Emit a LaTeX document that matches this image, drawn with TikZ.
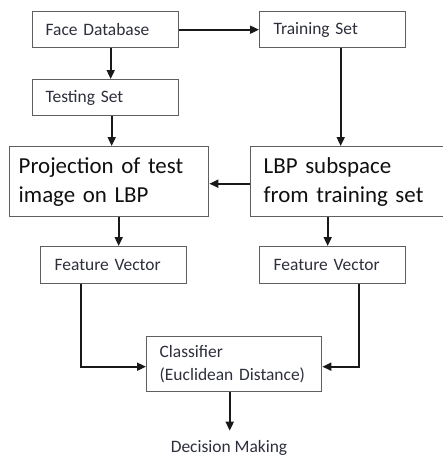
\documentclass[tikz,border=0pt]{standalone}
\usepackage{fontspec}
\setmainfont{Carlito}
\usetikzlibrary{arrows.meta,calc}
\definecolor{boxline}{RGB}{95,95,95}
\definecolor{smalltext}{RGB}{45,47,60}
\definecolor{bigtext}{RGB}{15,15,15}
\definecolor{wire}{RGB}{25,25,25}
\tikzset{
  box/.style={draw=boxline, line width=1.4pt, rectangle, anchor=north west,
    align=left, inner ysep=0pt},
  smallbox/.style={box, font=\fontsize{17.5}{23}\selectfont, text=smalltext},
  bigbox/.style={box, font=\fontsize{23}{29}\selectfont, text=bigtext},
  arr/.style={draw=wire, line width=1.8pt, -{Triangle[length=9pt,width=8pt]}}
}
\begin{document}
\begin{tikzpicture}[x=1bp,y=-1bp]
\useasboundingbox (0,0) rectangle (443,457);
\clip (0,0) rectangle (443,457);

% processing blocks
\node[smallbox, minimum width=146bp, minimum height=36bp, text width=120bp, inner xsep=13bp] (fd) at (32,11) {Face Database};
\node[smallbox, minimum width=146bp, minimum height=36bp, text width=118bp, inner xsep=14bp] (ts) at (259,11) {Training Set};
\node[smallbox, minimum width=146bp, minimum height=36bp, text width=120bp, inner xsep=13bp] (tst) at (32,79) {Testing Set};
\node[bigbox, minimum width=199bp, minimum height=70bp, text width=181bp, inner xsep=9bp] (proj) at (9,146) {Projection of test\\image on LBP};
\node[bigbox, minimum width=198bp, minimum height=70bp, text width=172bp, inner xsep=13bp] (lbp) at (250,146) {LBP subspace\\from training set};
\node[smallbox, minimum width=146bp, minimum height=37bp, text width=118bp, inner xsep=14bp] (fv1) at (40,246) {Feature Vector};
\node[smallbox, minimum width=146bp, minimum height=37bp, text width=118bp, inner xsep=14bp] (fv2) at (259,246) {Feature Vector};
\node[smallbox, minimum width=175bp, minimum height=55bp, text width=149bp, inner xsep=13bp] (cls) at (146,336) {Classifier\\(Euclidean Distance)};
\node[font=\fontsize{17.5}{23}\selectfont, text=smalltext, anchor=base, inner sep=3pt] (dm) at (229,452) {Decision Making};

% connectors
\draw[arr] (fd.east) -- (ts.west);
\draw[arr] ([xshift=5bp]fd.south) -- ([xshift=5bp]tst.north);
\draw[arr] ([xshift=6bp]tst.south) -- ([xshift=6bp]tst.south |- proj.north);
\draw[arr] ([xshift=8bp]ts.south) -- ([xshift=8bp]ts.south |- lbp.north);
\draw[arr] ([yshift=-2bp]lbp.west) -- ([yshift=-2bp]lbp.west -| proj.east);
\draw[arr] ([xshift=5bp]fv1.north |- proj.south) -- ([xshift=5bp]fv1.north);
\draw[arr] ([xshift=-5bp]fv2.north |- lbp.south) -- ([xshift=-5bp]fv2.north);
\draw[arr] ([xshift=-33bp]fv1.south) |- ([yshift=-2.5bp]cls.west);
\draw[arr] ([xshift=26bp]fv2.south) |- ([yshift=-2.5bp]cls.east);
\draw[arr, shorten >=6bp] ([xshift=-4.5bp]cls.south) -- ([xshift=-4.5bp]cls.south |- dm.north);
\end{tikzpicture}
\end{document}
